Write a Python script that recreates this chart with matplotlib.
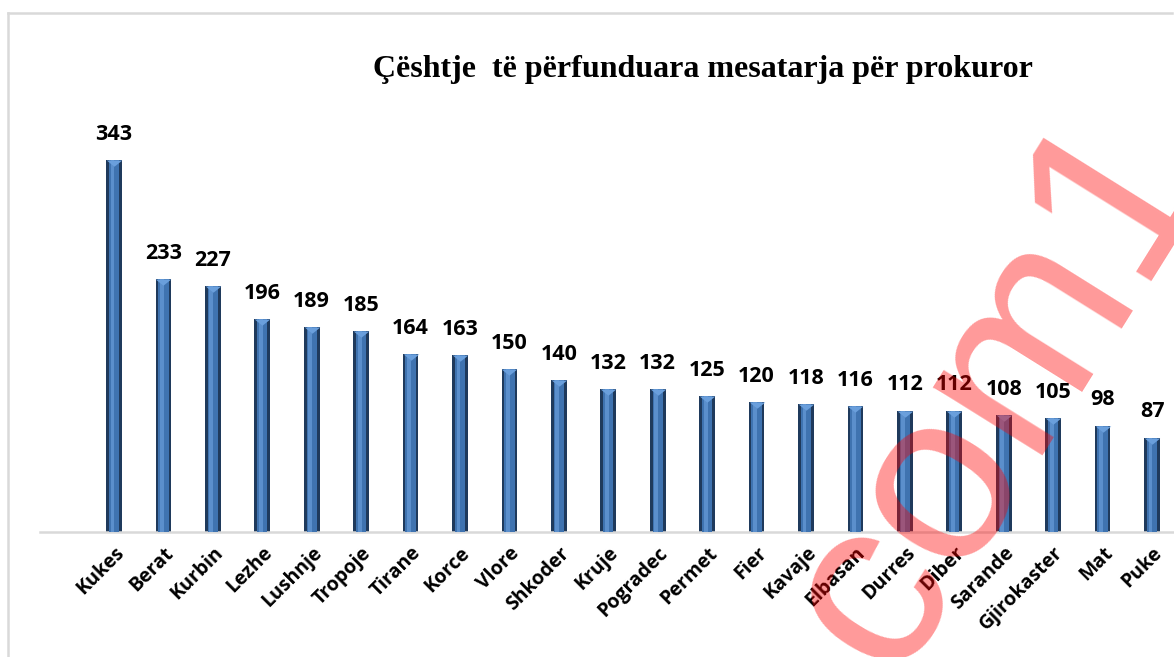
import matplotlib.pyplot as plt
from matplotlib.lines import Line2D
from matplotlib.path import Path
import numpy as np

qytetet = ['Kukes', 'Berat', 'Kurbin', 'Lezhe', 'Lushnje', 'Tropoje', 'Tirane',
           'Korce', 'Vlore', 'Shkoder', 'Kruje', 'Pogradec', 'Permet', 'Fier',
           'Kavaje', 'Elbasan', 'Durres', 'Diber', 'Sarande', 'Gjirokaster',
           'Mat', 'Puke']
vlerat = [343, 233, 227, 196, 189, 185, 164, 163, 150, 140, 132, 132, 125,
          120, 118, 116, 112, 112, 108, 105, 98, 87]

W, H = 1174, 657
fig = plt.figure(figsize=(W / 100, H / 100), dpi=100)
fig.patch.set_facecolor('white')

# korniza gri e grafikut
fig.add_artist(Line2D([8 / W, 8 / W], [0, 1 - 12.5 / H], color='#d9d9d9', lw=1.8))
fig.add_artist(Line2D([8 / W, 1172 / W], [1 - 12.5 / H, 1 - 12.5 / H], color='#d9d9d9', lw=1.8))

ax = fig.add_axes([40 / W, (H - 532) / H, (W - 40) / W, 412 / H])
x = np.arange(len(qytetet))

# shtylla me pamje 3D (buze e erret + mes me i ndritshem)
ax.bar(x, vlerat, width=0.32, color='#1f3a5c', zorder=2)
ax.bar(x, vlerat, width=0.21, color='#3f73b0', zorder=3)
ax.bar(x - 0.03, vlerat, width=0.08, color='#5b8fcc', zorder=4)
kulm = Path([(-1, 0), (1, 0), (0, -0.8), (-1, 0)])
ax.scatter(x, vlerat, marker=kulm, s=125, color='#6a9fdc', zorder=5,
           linewidths=0, clip_on=False)

for xi, v in zip(x, vlerat):
    ax.annotate(str(v), (xi, v), xytext=(0, 11), textcoords='offset points',
                ha='center', va='bottom', fontsize=15.5, fontweight='bold',
                family='Open Sans', color='black')

ax.set_xlim(-1.497, 21.445)
ax.set_ylim(0, 380)
ax.set_yticks([])
ax.set_xticks(x)
ax.set_xticklabels(qytetet, rotation=45, ha='right', rotation_mode='anchor',
                   fontsize=14, fontweight='bold', family='Open Sans')
ax.tick_params(axis='x', length=0, pad=8)
for s in ['top', 'right', 'left']:
    ax.spines[s].set_visible(False)
ax.spines['bottom'].set_color('#d9d9d9')
ax.spines['bottom'].set_linewidth(1.8)

fig.text(703 / W, 1 - 70 / H, 'Çështje  të përfunduara mesatarja për prokuror',
         ha='center', va='center', fontsize=23, fontweight='bold',
         family='Liberation Serif')

# shenja uji
fig.text(998 / W, 1 - 392 / H, 'com1', rotation=58, rotation_mode='anchor',
         ha='center', va='center', fontsize=176, family='Liberation Sans',
         color='red', alpha=0.4, zorder=10)

fig.savefig('out.png', dpi=100)
